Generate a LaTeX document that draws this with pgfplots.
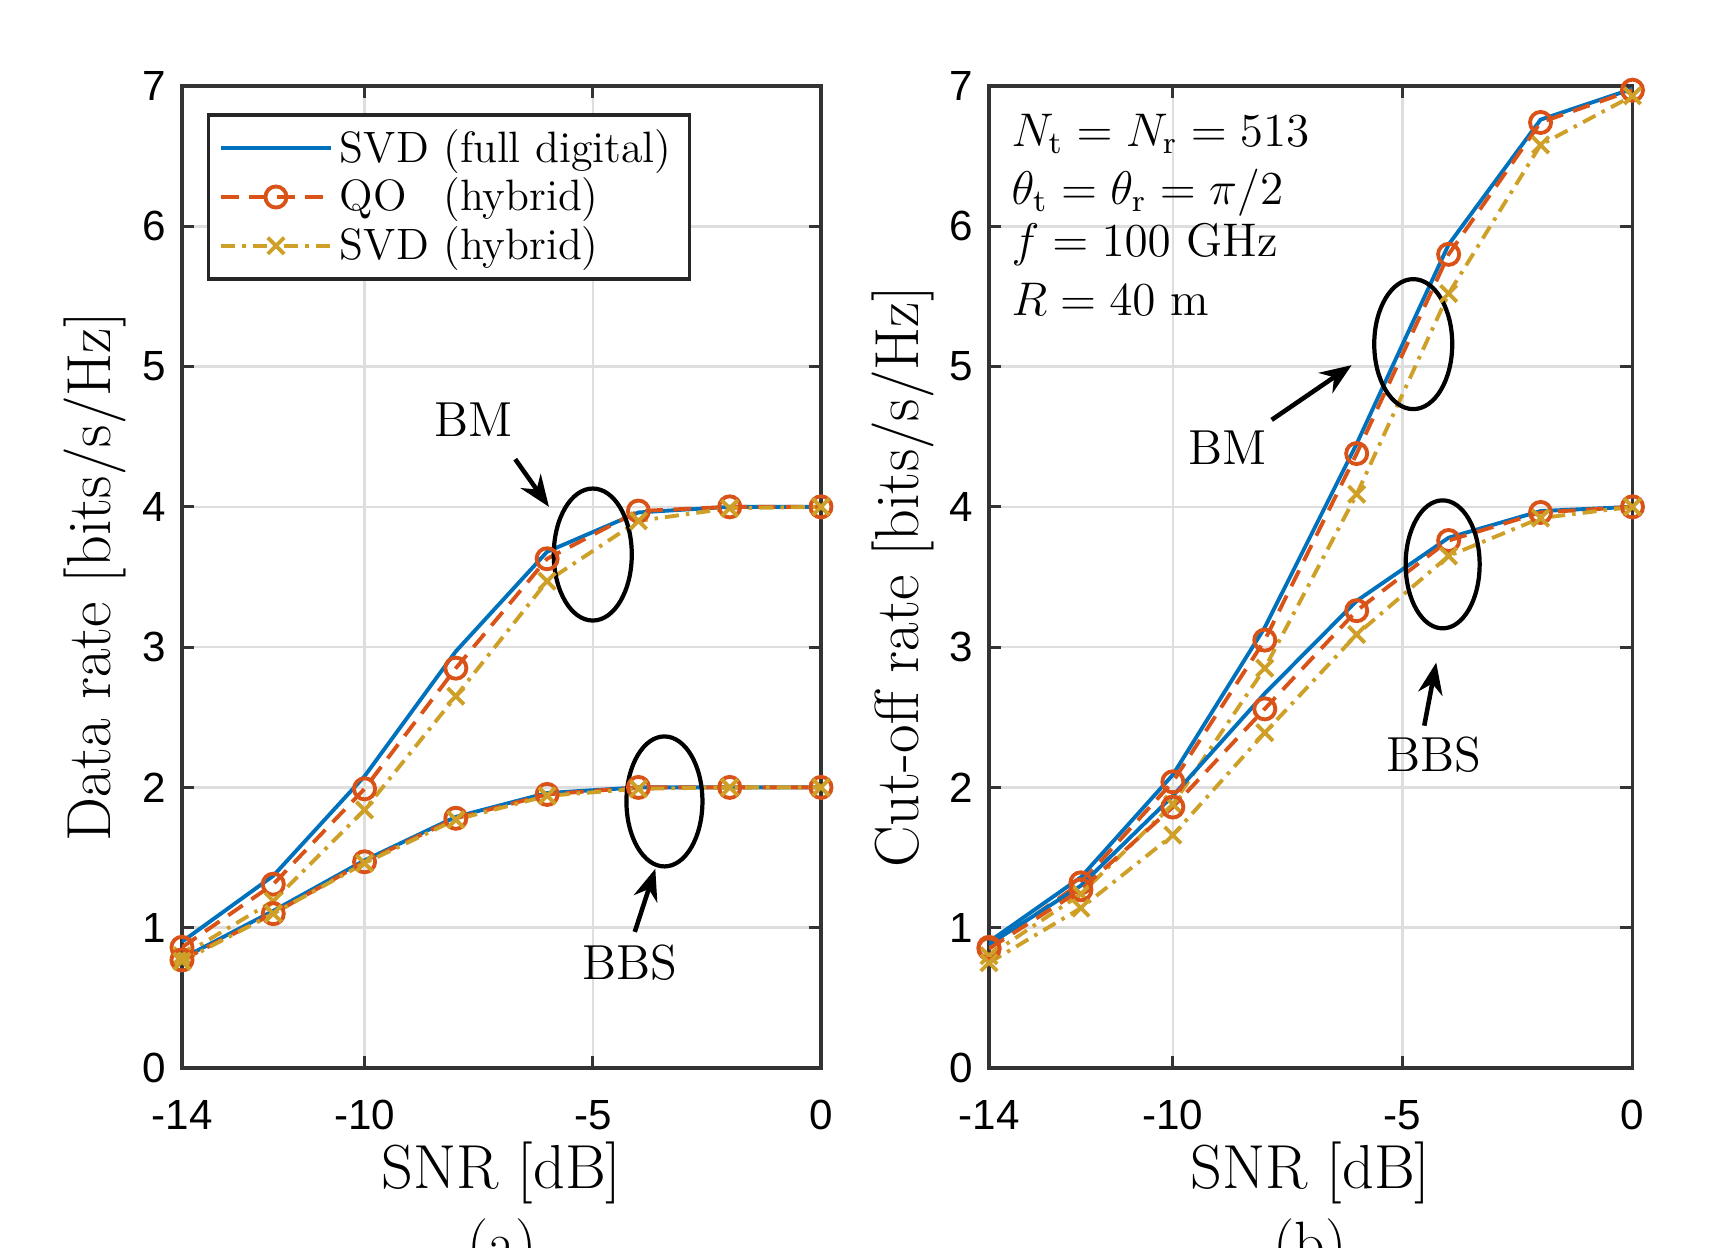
\documentclass[border=0pt]{standalone}
\usepackage{fontspec}
\usepackage{graphicx}
\usepackage{pgfplots}
\pgfplotsset{compat=1.18}
\usetikzlibrary{arrows.meta}
\newfontfamily\tickfont{Liberation Sans}
\definecolor{mblue}{rgb}{0,0.447,0.741}
\definecolor{morange}{rgb}{0.85,0.325,0.098}
\definecolor{mgold}{RGB}{206,160,40}

\pgfplotsset{
  myaxis/.style={
    scale only axis, height=9.82cm,
    xmin=-14, xmax=0, ymin=0, ymax=7,
    xtick={-14,-10,-5,0}, ytick={0,1,...,7},
    tick align=inside, major tick length=0.12cm,
    grid=major, grid style={black!13, line width=0.7pt},
    axis line style={black!80, line width=0.9pt},
    every tick/.style={black!80, line width=0.9pt},
    ticklabel style={font=\tickfont\fontsize{12}{14}\selectfont},
    xticklabel style={yshift=-0.2cm},
    yticklabel style={xshift=-0.04cm},
    /pgf/number format/assume math mode=true,
    xlabel={SNR [dB]},
    every axis x label/.style={at={(axis description cs:0.5,-0.107)}, anchor=center, font=\fontsize{17.7}{21}\selectfont},
  },
  fd/.style={mblue, line width=1.1pt, mark=none},
  qo/.style={morange, line width=1.1pt, dash pattern=on 5pt off 3pt, mark=o, mark size=3pt, mark options={solid}},
  sh/.style={mgold, line width=1.1pt, dash pattern=on 4pt off 2pt on 1pt off 2pt, mark=x, mark size=3.3pt, mark options={solid}},
}
\tikzset{
  lbl/.style={font=\fontsize{14}{17}\selectfont},
  ann/.style={-{Stealth[length=9pt,width=7pt]}, line width=1.3pt},
  par/.style={anchor=west, font=\fontsize{12}{14}\selectfont},
}

\begin{document}
\begin{tikzpicture}
\useasboundingbox (0,0) rectangle (17.19cm,12.48cm);

% (a) data rate
\begin{axis}[myaxis, at={(1.82cm,1.80cm)}, anchor=south west, width=6.39cm,
    ylabel={Data rate [bits/s/Hz]},
    every axis y label/.style={at={(axis description cs:-0.136,0.5)}, rotate=90, anchor=center, font=\fontsize{17.7}{21}\selectfont},
    legend style={at={(0.039,0.972)}, anchor=north west, draw=black!85, line width=0.9pt,
      font=\fontsize{12.5}{15}\selectfont, cells={anchor=west}, row sep=-1pt},
    legend image code/.code={\draw[mark repeat=2,mark phase=2,#1] plot coordinates {(0cm,0cm) (0.55cm,0cm) (1.1cm,0cm)};},
]
\addplot[fd] coordinates {(-14,0.90)(-12,1.37)(-10,2.08)(-8,2.97)(-6,3.68)(-4,3.96)(-2,4.0)(0,4.0)};
\addlegendentry{SVD (full digital)}
\addplot[qo] coordinates {(-14,0.86)(-12,1.31)(-10,1.99)(-8,2.85)(-6,3.63)(-4,3.97)(-2,4.0)(0,4.0)};
\addlegendentry{\rlap{QO}\phantom{SVD} (hybrid)}
\addplot[sh] coordinates {(-14,0.80)(-12,1.19)(-10,1.84)(-8,2.65)(-6,3.47)(-4,3.90)(-2,3.99)(0,4.0)};
\addlegendentry{SVD (hybrid)}
\addplot[fd, forget plot] coordinates {(-14,0.78)(-12,1.12)(-10,1.48)(-8,1.79)(-6,1.96)(-4,2.0)(-2,2.0)(0,2.0)};
\addplot[qo, forget plot] coordinates {(-14,0.77)(-12,1.10)(-10,1.47)(-8,1.78)(-6,1.95)(-4,2.0)(-2,2.0)(0,2.0)};
\addplot[sh, forget plot] coordinates {(-14,0.76)(-12,1.10)(-10,1.46)(-8,1.77)(-6,1.94)(-4,1.99)(-2,2.0)(0,2.0)};
\draw[line width=1.2pt] (axis cs:-5,3.66) ellipse [x radius=0.39cm, y radius=0.66cm];
\draw[line width=1.2pt] (axis cs:-3.43,1.90) ellipse [x radius=0.38cm, y radius=0.65cm];
\node[lbl] at (axis cs:-7.61,4.62) {BM};
\draw[ann] (axis cs:-6.70,4.34) -- (axis cs:-5.96,4.0);
\node[lbl] at (axis cs:-4.18,0.75) {BBS};
\draw[ann] (axis cs:-4.08,0.97) -- (axis cs:-3.63,1.42);
\end{axis}

% (b) cut-off rate
\begin{axis}[myaxis, at={(9.89cm,1.80cm)}, anchor=south west, width=6.435cm,
    ylabel={Cut-off rate [bits/s/Hz]},
    every axis y label/.style={at={(axis description cs:-0.133,0.5)}, rotate=90, anchor=center, font=\fontsize{17.7}{21}\selectfont},
]
\addplot[fd] coordinates {(-14,0.90)(-12,1.36)(-10,2.09)(-8,3.14)(-6,4.45)(-4,5.87)(-2,6.76)(0,6.98)};
\addplot[qo] coordinates {(-14,0.86)(-12,1.32)(-10,2.04)(-8,3.05)(-6,4.38)(-4,5.80)(-2,6.74)(0,6.97)};
\addplot[sh] coordinates {(-14,0.80)(-12,1.24)(-10,1.88)(-8,2.85)(-6,4.09)(-4,5.52)(-2,6.58)(0,6.93)};
\addplot[fd] coordinates {(-14,0.88)(-12,1.30)(-10,1.94)(-8,2.67)(-6,3.33)(-4,3.78)(-2,3.97)(0,4.0)};
\addplot[qo] coordinates {(-14,0.85)(-12,1.27)(-10,1.86)(-8,2.56)(-6,3.26)(-4,3.76)(-2,3.96)(0,4.0)};
\addplot[sh] coordinates {(-14,0.75)(-12,1.14)(-10,1.66)(-8,2.39)(-6,3.09)(-4,3.65)(-2,3.92)(0,4.0)};
\draw[line width=1.2pt] (axis cs:-4.77,5.16) ellipse [x radius=0.39cm, y radius=0.65cm];
\draw[line width=1.2pt] (axis cs:-4.13,3.59) ellipse [x radius=0.37cm, y radius=0.64cm];
\node[lbl] at (axis cs:-8.80,4.42) {BM};
\draw[ann] (axis cs:-7.85,4.62) -- (axis cs:-6.11,5.01);
\node[lbl] at (axis cs:-4.32,2.23) {BBS};
\draw[ann] (axis cs:-4.53,2.44) -- (axis cs:-4.27,2.89);
\node[par] at (axis cs:-13.78,6.66) {\scalebox{1.12}{$N_{\mathrm{t}} = N_{\mathrm{r}} = 513$}};
\node[par] at (axis cs:-13.78,6.24) {\scalebox{1.12}{$\theta_{\mathrm{t}} = \theta_{\mathrm{r}} = \pi/2$}};
\node[par] at (axis cs:-13.78,5.87) {\scalebox{1.12}{$f = 100$ GHz}};
\node[par] at (axis cs:-13.78,5.48) {\scalebox{1.12}{$R = 40$ m}};
\end{axis}

\node[anchor=base, font=\fontsize{17}{20}\selectfont] at (5.02cm,-0.16cm) {(a)};
\node[anchor=base, font=\fontsize{17}{20}\selectfont] at (13.10cm,-0.16cm) {(b)};
\end{tikzpicture}
\end{document}
